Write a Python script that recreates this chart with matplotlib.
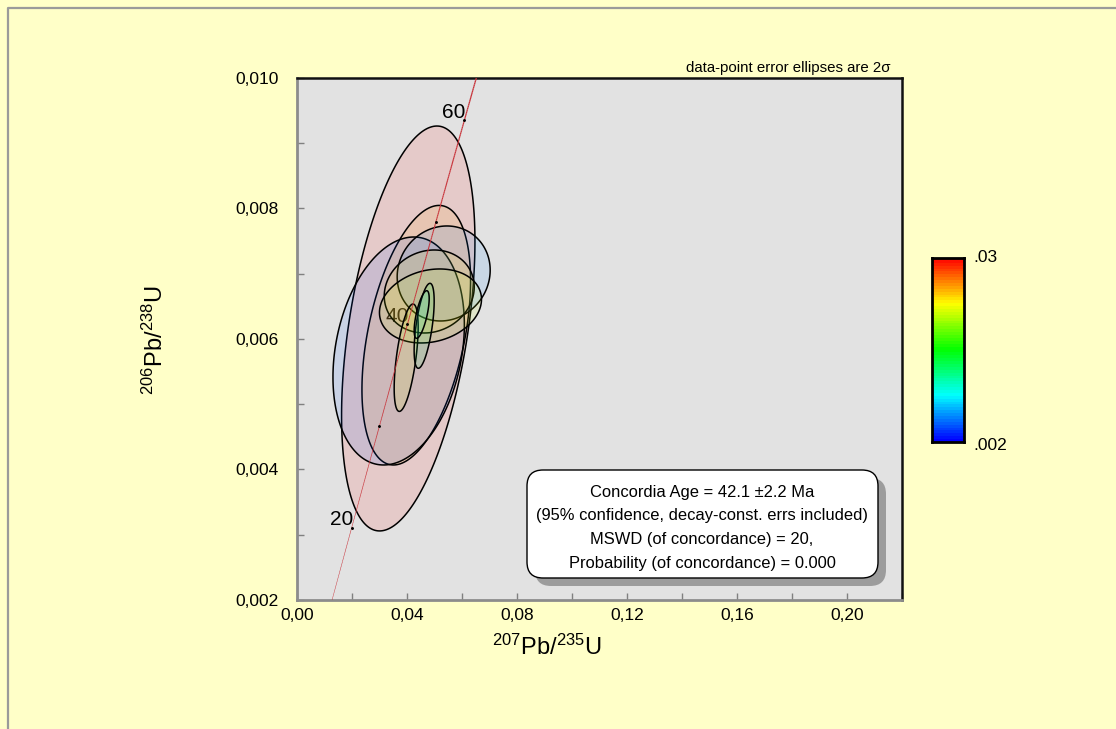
import numpy as np
import matplotlib
matplotlib.use("Agg")
import matplotlib.pyplot as plt
from matplotlib.patches import Polygon, FancyBboxPatch
from matplotlib.collections import LineCollection
from matplotlib.colors import LinearSegmentedColormap, Normalize
from matplotlib.lines import Line2D
from matplotlib.ticker import MultipleLocator, FuncFormatter
from matplotlib.transforms import IdentityTransform

plt.rcParams['font.family'] = ['Liberation Sans', 'DejaVu Sans']
plt.rcParams['mathtext.fontset'] = 'custom'
plt.rcParams['mathtext.rm'] = 'Liberation Sans'
plt.rcParams['mathtext.it'] = 'Liberation Sans:italic'

# decay constants (1/yr)
LAMBDA_238 = 1.55125e-10
LAMBDA_235 = 9.8485e-10

# analyses: centre, 2-sigma half extents, error correlation, colour value
pb207_u235 = [0.04047, 0.04338, 0.03698, 0.05335, 0.04810, 0.04855, 0.03971, 0.04625, 0.04535]
pb206_u238 = [0.006161, 0.006058, 0.005816, 0.007004, 0.006728, 0.006506, 0.005713, 0.006202, 0.006375]
err207 = [0.02425, 0.01975, 0.02389, 0.01691, 0.01636, 0.01855, 0.00436, 0.00364, 0.00273]
err206 = [0.003103, 0.001989, 0.001747, 0.000728, 0.000636, 0.000567, 0.000823, 0.000651, 0.000365]
rho = [0.43, 0.42, 0.23, 0.07, 0.11, 0.18, 0.57, 0.58, 0.67]
colour_value = [0.0295, 0.0255, 0.0045, 0.0055, 0.0235, 0.0215, 0.0220, 0.0140, 0.0095]

age_marks = [10, 20, 30, 40, 50, 60]       # Ma
age_labels = [20, 40, 60]

summary = ["Concordia Age = 42.1 \u00b12.2 Ma",
           "(95% confidence, decay-const. errs included)",
           "MSWD (of concordance) = 20,",
           "Probability (of concordance) = 0.000"]

cbar_min, cbar_max = 0.002, 0.03

rainbow = LinearSegmentedColormap.from_list(
    "rainbow_bar", ["#0000ff", "#00ffff", "#00ff00", "#ffff00", "#ff0000"], N=64)
norm = Normalize(cbar_min, cbar_max)


def concordia(age_ma):
    t = np.asarray(age_ma) * 1e6
    return np.exp(LAMBDA_235 * t) - 1, np.exp(LAMBDA_238 * t) - 1


def ellipse_points(cx, cy, ex, ey, r, n=240):
    t = np.linspace(0, 2 * np.pi, n)
    x = cx + ex * np.cos(t)
    y = cy + ey * (r * np.cos(t) + np.sqrt(1 - r ** 2) * np.sin(t))
    return np.column_stack([x, y])


fig = plt.figure(figsize=(11.16, 7.29), dpi=100)
fig.patch.set_facecolor("#ffffc8")

# thin frame round the page
fig.add_artist(Line2D([7.5, 7.5, 1116], [0, 721.5, 721.5], transform=IdentityTransform(),
                      color="#9a9a9a", lw=1.6))

ax = fig.add_axes([0.2661, 0.1770, 0.5421, 0.7160])
ax.set_facecolor("#e2e2e2")
ax.set_xlim(0, 0.22)
ax.set_ylim(0.002, 0.010)

for side in ("left", "bottom"):
    ax.spines[side].set_color("#8c8c8c")
    ax.spines[side].set_linewidth(2)
for side in ("top", "right"):
    ax.spines[side].set_color("#111111")
    ax.spines[side].set_linewidth(1.8)

ax.xaxis.set_major_locator(MultipleLocator(0.04))
ax.xaxis.set_minor_locator(MultipleLocator(0.02))
ax.yaxis.set_major_locator(MultipleLocator(0.002))
ax.yaxis.set_minor_locator(MultipleLocator(0.001))
ax.xaxis.set_major_formatter(FuncFormatter(lambda v, p: "{:.2f}".format(v).replace(".", ",")))
ax.yaxis.set_major_formatter(FuncFormatter(lambda v, p: "{:.3f}".format(v).replace(".", ",")))
ax.tick_params(which="both", direction="in", length=5, width=1, color="#808080",
               labelsize=12.5, labelcolor="black")
ax.tick_params(axis="y", pad=13)
ax.tick_params(axis="x", pad=6)

# concordia curve, thin at young ages
ages = np.linspace(12, 68, 300)
cx, cy = concordia(ages)
pts = np.column_stack([cx, cy]).reshape(-1, 1, 2)
segs = np.concatenate([pts[:-1], pts[1:]], axis=1)
widths = np.linspace(0.3, 1.0, len(segs))
ax.add_collection(LineCollection(segs, linewidths=widths, colors="#c8333a", zorder=4))

mx, my = concordia(age_marks)
ax.scatter(mx, my, s=1.2, color="black", zorder=4)
for a in age_labels:
    lx, ly = concordia(a)
    ax.annotate(str(a), (lx, ly), xytext=(1, 6), textcoords="offset points",
                ha="right", va="center", fontsize=15, zorder=2.5)

# error ellipses
for i in range(len(pb207_u235)):
    verts = ellipse_points(pb207_u235[i], pb206_u238[i], err207[i], err206[i], rho[i])
    c = rainbow(norm(colour_value[i]))
    ax.add_patch(Polygon(verts, closed=True, facecolor=(c[0], c[1], c[2], 0.11),
                         edgecolor="black", lw=1.1, zorder=3))

fig.text(890 / 1116, 1 - 68 / 729, "data-point error ellipses are 2\u03c3",
         ha="right", va="center", fontsize=10.8)

fig.text(547 / 1116, 1 - 647 / 729, r"$^{207}$Pb/$^{235}$U", ha="center", va="center", fontsize=17)
fig.text(155 / 1116, 1 - 340 / 729, r"$^{206}$Pb/$^{238}$U", ha="center", va="center",
         fontsize=17, rotation=90)

# summary box with drop shadow (pixel coordinates)
bx, by, bw, bh = 527, 729 - 578, 351, 108
shadow = FancyBboxPatch((bx + 8, by - 8), bw, bh, boxstyle="round,pad=0,rounding_size=16",
                        transform=IdentityTransform(), facecolor="#9c9c9c", edgecolor="none")
box = FancyBboxPatch((bx, by), bw, bh, boxstyle="round,pad=0,rounding_size=16",
                     transform=IdentityTransform(), facecolor="white", edgecolor="black", lw=1)
fig.add_artist(shadow)
fig.add_artist(box)
for k, line in enumerate(summary):
    fig.text(702 / 1116, 1 - (492 + 23.7 * k) / 729, line, ha="center", va="center", fontsize=11.9)

# colour scale
cax = fig.add_axes([932 / 1116, 1 - 442 / 729, 32 / 1116, 184 / 729])
cax.imshow(np.linspace(0, 1, 64).reshape(-1, 1), cmap=rainbow, aspect="auto",
           origin="lower", interpolation="nearest")
cax.set_xticks([])
cax.set_yticks([])
for s in cax.spines.values():
    s.set_linewidth(2)
    s.set_color("black")
fig.text(973 / 1116, 1 - 258 / 729, ".03", ha="left", va="center", fontsize=12.5)
fig.text(973 / 1116, 1 - 446 / 729, ".002", ha="left", va="center", fontsize=12.5)

fig.savefig("out.png", dpi=100, facecolor=fig.get_facecolor())
